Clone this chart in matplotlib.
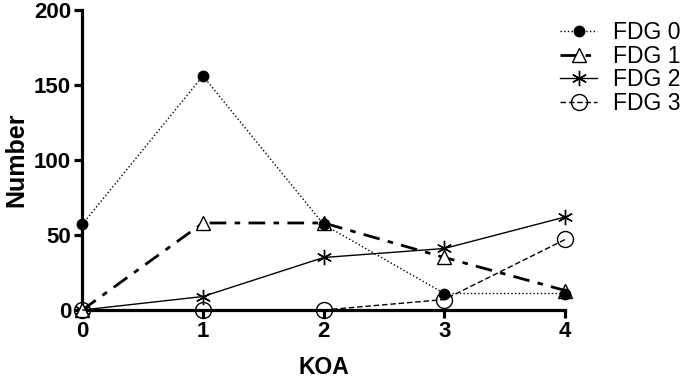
import matplotlib.pyplot as plt
import numpy as np

plt.rcParams['font.family'] = ['Liberation Sans', 'DejaVu Sans']

koa = [0, 1, 2, 3, 4]
fdg0 = [57, 156, 57, 11, 11]
fdg1 = [0, 58, 58, 35, 13]
fdg2 = [0, 9, 35, 41, 62]
fdg3 = [0, 0, 0, 7, 47]
labels = ["FDG 0", "FDG 1", "FDG 2", "FDG 3"]

fig = plt.figure(figsize=(6.85, 3.79), dpi=100)
ax = fig.add_axes([0.12, 0.182, 0.705, 0.792])

ax.plot(koa, fdg0, ls=':', lw=1, color='black', marker='o', ms=7.5,
        mfc='black', mec='black', clip_on=False, label=labels[0], zorder=5)
ax.plot(koa, fdg1, ls='-.', lw=2, color='black', marker='^', ms=10,
        mfc='white', mec='black', mew=1, clip_on=False, label=labels[1], zorder=4,
        dashes=(6, 3, 2, 3))
ax.plot(koa, fdg2, ls='-', lw=1, color='black', marker=(6, 2, 0), ms=11,
        mec='black', mew=1, clip_on=False, label=labels[2], zorder=3)
ax.plot(koa, fdg3, ls='--', lw=1, color='black', marker='o', ms=11.5,
        mfc='none', mec='black', mew=1, clip_on=False, label=labels[3], zorder=6,
        dashes=(4, 2))

ax.set_xlim(0, 4)
ax.set_ylim(0, 200)
ax.set_xticks([0, 1, 2, 3, 4])
ax.set_yticks([0, 50, 100, 150, 200])
for s in ['top', 'right']:
    ax.spines[s].set_visible(False)
for s in ['left', 'bottom']:
    ax.spines[s].set_linewidth(2.3)
ax.tick_params(width=2.3, length=6, labelsize=16, pad=2)
for t in ax.get_xticklabels() + ax.get_yticklabels():
    t.set_fontweight('bold')
ax.set_xlabel("KOA", fontsize=16.5, fontweight='bold', labelpad=10)
ax.set_ylabel("Number", fontsize=18, fontweight='bold', labelpad=4)

ax.legend(loc='upper left', bbox_to_anchor=(0.99, 0.962), frameon=False,
          fontsize=16.5, handlelength=1.6, handletextpad=0.7, labelspacing=0.02,
          borderpad=0, borderaxespad=0)

fig.savefig("out.png", dpi=100)
